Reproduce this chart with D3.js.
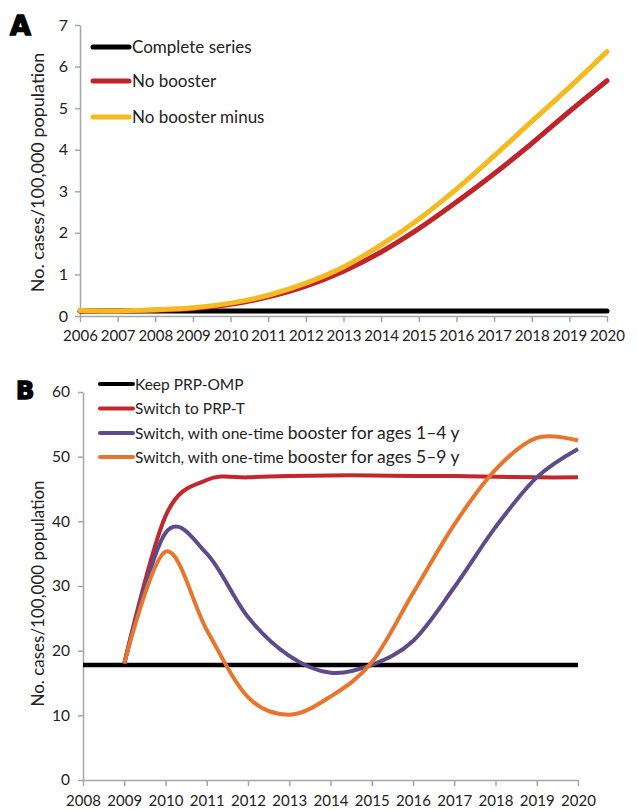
<!DOCTYPE html>
<html>
<head>
<meta charset="utf-8">
<script src="https://cdn.jsdelivr.net/npm/d3@7"></script>
<style>
  body { margin: 0; background: #fff; }
  text { font-family: Lato, "Open Sans", sans-serif; fill: #222; }
</style>
</head>
<body>
<div id="container"></div>
<script>
// panel A
const yearsA = d3.range(2006, 2021)
const completeSeries = [0.12, 0.12, 0.12, 0.12, 0.12, 0.12, 0.12, 0.12, 0.12, 0.12, 0.12, 0.12, 0.12, 0.12, 0.12]
const noBooster = [0.12, 0.12, 0.14, 0.18, 0.28, 0.46, 0.72, 1.08, 1.54, 2.1, 2.74, 3.42, 4.15, 4.92, 5.66]
const noBoosterMinus = [0.13, 0.12, 0.15, 0.2, 0.31, 0.5, 0.79, 1.18, 1.71, 2.33, 3.05, 3.85, 4.68, 5.5, 6.36]
const seriesNamesA = ['Complete series', 'No booster', 'No booster minus']
const yTicksA = [0, 1, 2, 3, 4, 5, 6, 7]

// panel B
const yearsB = d3.range(2009, 2021)
const yearsKeep = d3.range(2008, 2021)
const keepPRPOMP = [17.8, 17.8, 17.8, 17.8, 17.8, 17.8, 17.8, 17.8, 17.8, 17.8, 17.8, 17.8, 17.8]
const switchPRPT = [18, 40.8, 46.4, 46.8, 47.0, 47.1, 47.1, 47.0, 47.0, 46.9, 46.8, 46.8]
const booster14 = [18, 38.2, 35.0, 25.2, 19.2, 16.6, 17.8, 21.5, 29.8, 39.1, 46.8, 51.2]
const booster59 = [18, 35.3, 23.2, 12.8, 10.1, 12.9, 18.2, 28.9, 39.5, 48, 52.9, 52.5]
const seriesNamesB = [
  ['Keep PRP-OMP', ''],
  ['Switch to PRP-T', ''],
  ['Switch, with one-time ', 'booster for ages 1\u20134 y'],
  ['Switch, with one-time ', 'booster for ages 5\u20139 y']
]
const yTicksB = [0, 10, 20, 30, 40, 50, 60]

const width = 637
const height = 811

const svg = d3.select('#container')
  .append('svg')
  .attr('width', width)
  .attr('height', height)
  .attr('viewBox', [0, 0, width, height])

const axisColor = '#a6a6a6'

function styleAxis(g) {
  g.select('.domain').attr('stroke', axisColor).attr('stroke-width', 1.5)
  g.selectAll('.tick line').attr('stroke', axisColor).attr('stroke-width', 1.5)
  g.selectAll('.tick text').style('font-size', '15px').style('fill', '#222')
}

// ---------- A ----------
const xA = d3.scaleLinear([2006, 2020], [80, 607])
const yA = d3.scaleLinear([0, 7], [316, 25])

svg.append('g')
  .attr('transform', `translate(0,${yA(0)})`)
  .call(d3.axisBottom(xA).tickValues(yearsA).tickFormat(d3.format('d')).tickSize(6).tickSizeOuter(0).tickPadding(8))
  .call(styleAxis)

svg.append('g')
  .attr('transform', `translate(${xA(2006)},0)`)
  .call(d3.axisLeft(yA).tickValues(yTicksA).tickFormat(d3.format('d')).tickSize(5).tickSizeOuter(0).tickPadding(7))
  .call(styleAxis)
  .call(g => g.selectAll('.tick text').style('font-size', '16px'))

const colorsA = ['#000000', '#c0242b', '#f5ba1f']
const seriesA = [completeSeries, noBooster, noBoosterMinus]

const lineA = d3.line()
  .x((d, i) => xA(yearsA[i]))
  .y(d => yA(d))
  .curve(d3.curveCardinal.tension(0))

svg.append('g')
  .selectAll('path')
  .data(seriesA)
  .join('path')
  .attr('d', lineA)
  .attr('fill', 'none')
  .attr('stroke', (d, i) => colorsA[i])
  .attr('stroke-width', 5)
  .attr('stroke-linecap', 'round')

const legA = svg.append('g')
  .selectAll('g')
  .data(seriesNamesA)
  .join('g')
  .attr('transform', (d, i) => `translate(93,${[47, 81, 117][i]})`)

legA.append('line')
  .attr('x1', 0).attr('x2', 36)
  .attr('stroke', (d, i) => colorsA[i])
  .attr('stroke-width', 5)
  .attr('stroke-linecap', 'round')

legA.append('text')
  .attr('x', 39)
  .attr('dy', '0.35em')
  .style('font-size', '17px')
  .text(d => d)

svg.append('text')
  .attr('transform', `translate(44,${(42 + 303) / 2}) rotate(-90)`)
  .attr('text-anchor', 'middle')
  .style('font-size', '18px')
  .text('No. cases/100,000 population')

svg.append('text')
  .attr('x', 10).attr('y', 35)
  .style('font-family', '"DejaVu Sans", sans-serif')
  .style('font-weight', 'bold')
  .style('font-size', '27px')
  .style('fill', '#000')
  .style('stroke', '#000').style('stroke-width', 1.5)
  .text('A')

// ---------- B ----------
const xB = d3.scaleLinear([2008, 2020], [83, 578])
const yB = d3.scaleLinear([0, 60], [780, 392])

svg.append('g')
  .attr('transform', `translate(0,${yB(0)})`)
  .call(d3.axisBottom(xB).tickValues(yearsKeep).tickFormat(d3.format('d')).tickSize(6).tickSizeOuter(0).tickPadding(9))
  .call(styleAxis)

svg.append('g')
  .attr('transform', `translate(${xB(2008)},0)`)
  .call(d3.axisLeft(yB).tickValues(yTicksB).tickFormat(d3.format('d')).tickSize(5).tickSizeOuter(0).tickPadding(8))
  .call(styleAxis)
  .call(g => g.selectAll('.tick text').style('font-size', '15.5px'))

const colorsB = ['#000000', '#c1272d', '#5e4b8b', '#e8752b']

const lineB = years => d3.line()
  .x((d, i) => xB(years[i]))
  .y(d => yB(d))
  .curve(d3.curveCardinal.tension(0))

const seriesB = [
  { values: keepPRPOMP, years: yearsKeep },
  { values: switchPRPT, years: yearsB },
  { values: booster14, years: yearsB },
  { values: booster59, years: yearsB }
]

svg.append('g')
  .selectAll('path')
  .data(seriesB)
  .join('path')
  .attr('d', d => lineB(d.years)(d.values))
  .attr('fill', 'none')
  .attr('stroke', (d, i) => colorsB[i])
  .attr('stroke-width', (d, i) => i ? 4 : 4.5)
  .attr('stroke-linejoin', 'round')

const legB = svg.append('g')
  .selectAll('g')
  .data(seriesNamesB)
  .join('g')
  .attr('transform', (d, i) => `translate(100,${[384, 408.5, 433, 457][i]})`)

legB.append('line')
  .attr('x1', 0).attr('x2', 33)
  .attr('stroke', (d, i) => colorsB[i])
  .attr('stroke-width', 4)
  .attr('stroke-linecap', 'round')

legB.append('text')
  .attr('x', 35)
  .attr('dy', '0.35em')
  .selectAll('tspan')
  .data(d => d)
  .join('tspan')
  .style('font-size', (d, i) => i ? '17.5px' : '15.5px')
  .text(d => d)

svg.append('text')
  .attr('transform', `translate(44,${(472 + 715) / 2}) rotate(-90)`)
  .attr('text-anchor', 'middle')
  .style('font-size', '17px')
  .text('No. cases/100,000 population')

svg.append('text')
  .attr('x', 16).attr('y', 399)
  .style('font-family', '"DejaVu Sans", sans-serif')
  .style('font-weight', 'bold')
  .style('font-size', '24px')
  .style('fill', '#000')
  .style('stroke', '#000').style('stroke-width', 1.5)
  .text('B')
</script>
</body>
</html>
